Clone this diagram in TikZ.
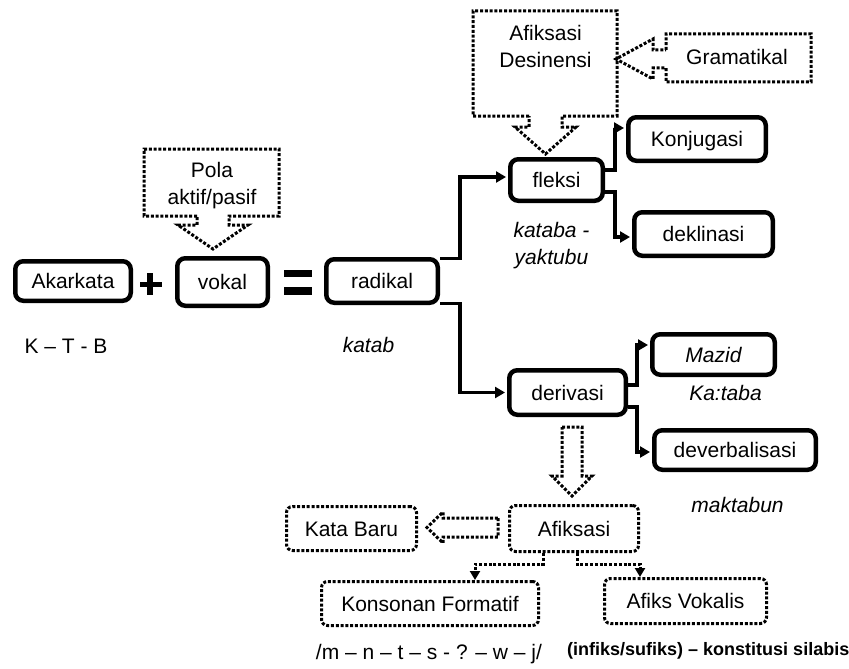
\documentclass[tikz,border=0pt]{standalone}
\usepackage{fontspec}
\setmainfont{Liberation Sans}
\usetikzlibrary{arrows.meta}
\begin{document}
\begin{tikzpicture}[x=1pt,y=-1pt,
  every node/.style={font=\fontsize{21}{27}\selectfont, inner sep=0pt},
  solidbox/.style={draw, line width=4.5pt, rounded corners=8pt, text height=15pt, text depth=0pt},
  dotline/.style={line width=3pt, dash pattern=on 3pt off 1.8pt},
  dotbox/.style={draw, dotline, rounded corners=6pt, text height=15pt, text depth=0pt},
  callout/.style={dotline, line join=miter},
  conn/.style={line width=3.5pt, -{Triangle[length=10pt,width=11pt]}, shorten >=2pt},
  dotconn/.style={dotline, -{Triangle[length=9pt,width=10pt]}},
  note/.style={font=\fontsize{21}{27}\selectfont\itshape},
]
\useasboundingbox (0,0) rectangle (849,669);

% main chain: root + vowel = radical
\node[solidbox, minimum width=115.5pt, minimum height=39.5pt] (akar) at (73,281) {Akarkata};
\node[solidbox, minimum width=90.5pt, minimum height=47.5pt] (vokal) at (222.5,282) {vokal};
\node[solidbox, minimum width=111.5pt, minimum height=43.5pt] (radikal) at (382,281) {radikal};

% plus and equals signs
\fill (140,282) rectangle (162,287);
\fill (147,273) rectangle (153,295);
\fill (284,270) rectangle (312,277);
\fill (284,287) rectangle (312,295);

% inflection branch
\node[solidbox, minimum width=92.5pt, minimum height=41.5pt] (fleksi) at (556.5,180) {fleksi};
\node[solidbox, minimum width=137.5pt, minimum height=43.5pt] (konj) at (697,139) {Konjugasi};
\node[solidbox, minimum width=138.5pt, minimum height=43.5pt] (dekl) at (703.5,234) {deklinasi};

% derivation branch
\node[solidbox, minimum width=116.5pt, minimum height=44.5pt] (derivasi) at (567.5,392.5) {derivasi};
\node[solidbox, minimum width=122.5pt, minimum height=40.5pt, font=\fontsize{21}{27}\selectfont\itshape] (mazid) at (713.5,354.5) {Mazid};
\node[solidbox, minimum width=161.5pt, minimum height=39.5pt] (deverb) at (735,450) {deverbalisasi};

% affixation boxes
\node[dotbox, minimum width=130pt, minimum height=44pt] (katabaru) at (351.5,528.5) {Kata Baru};
\node[dotbox, minimum width=129pt, minimum height=46pt] (afiksasi) at (574,528.5) {Afiksasi};
\node[dotbox, minimum width=217pt, minimum height=44pt] (konsonan) at (430,603.5) {Konsonan Formatif};
\node[dotbox, minimum width=162pt, minimum height=45pt] (vokalis) at (685.5,601) {Afiks Vokalis};

% callout: vowel pattern
\node[align=center] (pola) at (212,185.5) {Pola\\aktif/pasif};
\draw[callout] (197,216) -- (144,216) -- (144,149) -- (279,149) -- (279,216) -- (229,216)
  -- (229,225) -- (248,225) -- (213,249) -- (178,225) -- (197,225) -- cycle;

% callout: desinential affixation
\node[align=center] (desinensi) at (545.5,46.5) {Afiksasi\\Desinensi};
\draw[callout] (529,116) -- (473,116) -- (473,11) -- (617,11) -- (617,116) -- (562,116)
  -- (562,127) -- (576,127) -- (545.5,154) -- (515,127) -- (529,127) -- cycle;

% callout: grammatical
\node[anchor=base] (gramatikal) at (737,65) {Gramatikal};
\draw[callout] (666,50) -- (666,34) -- (811,34) -- (811,82) -- (666,82) -- (666,68)
  -- (653,68) -- (653,79) -- (616,59) -- (653,39) -- (653,50) -- cycle;

% block arrows around the affixation box
\draw[callout] (562,427) -- (582,427) -- (582,476) -- (592,476) -- (572,496) -- (552,476) -- (562,476) -- cycle;
\draw[callout] (498,518) -- (498,537) -- (443,537) -- (443,543) -- (427,527.5) -- (443,512) -- (443,518) -- cycle;

% elbow connectors
\draw[conn] ([yshift=-1.5pt]radikal.north east) -- ++(20pt,0pt) |- ([yshift=3pt]fleksi.west);
\draw[conn] ([yshift=1.5pt]radikal.south east) -- ++(20pt,0pt) |- (derivasi.west);
\draw[conn] ([yshift=10pt]fleksi.east) -- ++(10pt,0pt) |- ([yshift=11pt]konj.west);
\draw[conn] ([yshift=-12pt]fleksi.east) -- ++(10pt,0pt) |- ([yshift=-3pt]dekl.west);
\draw[conn] ([yshift=7.5pt]derivasi.east) -- ++(9pt,0pt) |- ([yshift=9.5pt]mazid.west);
\draw[conn] ([yshift=-14.5pt]derivasi.east) -- ++(9pt,0pt) |- ([yshift=-2pt]deverb.west);

% dotted connectors from the affixation box
\draw[dotconn] ([xshift=-31pt]afiksasi.south) -- ++(0pt,-11pt) -| ([xshift=45pt]konsonan.north);
\draw[dotconn] ([xshift=3pt]afiksasi.south) -- ++(0pt,-11pt) -| ([xshift=-45.5pt]vokalis.north);

% examples and annotations
\node[anchor=base] (ktb) at (66,353) {K – T - B};
\node[note, anchor=base] (katab) at (368.5,352) {katab};
\node[note, align=center] (kataba) at (551.5,245.3) {kataba -\\yaktubu};
\node[note, anchor=base] (kaataba) at (725.5,400) {Ka:taba};
\node[note, anchor=base] (maktabun) at (737.5,512) {maktabun};
\node[anchor=base] (fonem) at (429,659) {/m – n – t – s - ? – w – j/};
\node[anchor=base west, font=\fontsize{18}{22}\selectfont\bfseries] (silabis) at (567,655) {(infiks/sufiks) – konstitusi silabis};
\end{tikzpicture}
\end{document}
